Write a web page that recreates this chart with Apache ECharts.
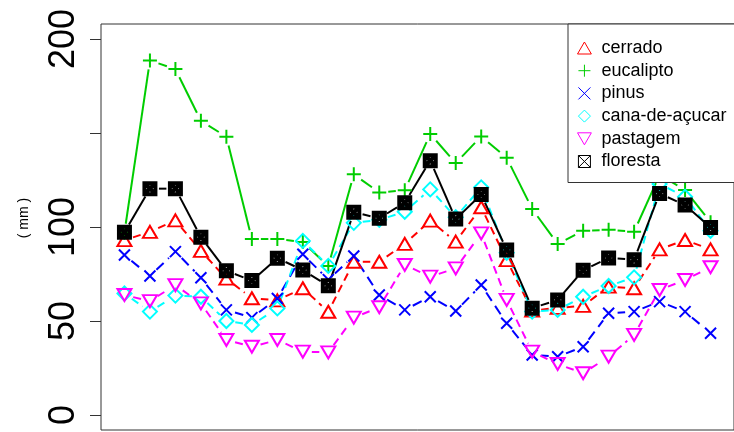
<!DOCTYPE html>
<html>
<head>
<meta charset="utf-8">
<script src="https://cdn.jsdelivr.net/npm/echarts@6/dist/echarts.min.js"></script>
<style>
  html, body { margin: 0; padding: 0; background: #fff; }
  #chart { width: 734px; height: 432px; }
</style>
</head>
<body>
<div id="chart"></div>
<script>
// Observation index (months) along the horizontal axis
const months = [1, 2, 3, 4, 5, 6, 7, 8, 9, 10, 11, 12, 13, 14, 15, 16, 17, 18, 19, 20, 21, 22, 23, 24];

// Values in mm for each land cover
const cerrado   = [93, 97.4, 103.5, 87.3, 72.5, 62.1, 61, 67.4, 54.9, 81.5, 81.5, 91, 103.4, 92.2, 110.5, 82.4, 55.5, 57, 58, 68.3, 67.4, 88.1, 93.1, 88.1];
const eucalipto = [97, 188.6, 184, 156.5, 148, 93.6, 93.6, 92, 79.2, 128, 118.4, 119.5, 149.5, 134, 148.2, 136.8, 109.6, 91, 98, 98.5, 97.5, 127.7, 119.7, 102.5];
const pinus     = [85.1, 73.9, 86.9, 73, 55.9, 51.8, 62, 85.5, 72, 84.6, 63.8, 55.9, 62.9, 55.3, 69.1, 48.8, 31.9, 31, 36.3, 54.1, 55, 60.3, 55, 43.5];
const cana      = [64.6, 55, 63.5, 62.9, 50, 47.9, 56.7, 92.6, 79.3, 102.2, 103.8, 108.1, 120, 105.2, 121.1, 86.3, 55, 55.9, 62.9, 68.6, 73.2, 122.9, 116.1, 98];
const pastagem  = [63.8, 60.6, 69.1, 59.4, 39.9, 36.3, 39.9, 33.7, 33.3, 51.8, 57.3, 79.8, 73.6, 78, 96.6, 61.2, 33.7, 27.1, 22.2, 31, 42.6, 66.5, 71.8, 78.6];
const floresta  = [97.2, 120.4, 120.4, 94.6, 76.7, 71.5, 83.4, 77.1, 68.7, 107.8, 104.7, 112.9, 135.3, 104.2, 117.3, 87.8, 56.8, 61.2, 77, 83.5, 82.6, 117.8, 111.7, 99.8];

// Y axis ticks, and the labels printed beside them (150 is left unlabelled)
const yTicks = [0, 50, 100, 150, 200];
const yLabels = [0, 50, 100, 200];

const SYM = {
  triUp:   'path://M5,0L10,8.66L0,8.66Z',
  plus:    'path://M5,0L5,10M0,5L10,5',
  cross:   'path://M0,0L10,10M10,0L0,10',
  diamond: 'path://M5,0L10,5L5,10L0,5Z',
  triDown: 'path://M0,0L10,0L5,8.66Z',
  boxX:    'path://M0,0L10,0L10,10L0,10ZM0,0L10,10M10,0L0,10'
};

const groups = [
  { name: 'cerrado',        values: cerrado,   color: '#FF0000', symbol: SYM.triUp,   size: [14, 12], dash: [8, 5] },
  { name: 'eucalipto',      values: eucalipto, color: '#00CD00', symbol: SYM.plus,    size: 14,       dash: null },
  { name: 'pinus',          values: pinus,     color: '#0000FF', symbol: SYM.cross,   size: 11,       dash: [10, 6] },
  { name: 'cana-de-açucar', values: cana,      color: '#00FFFF', symbol: SYM.diamond, size: 14,       dash: [8, 5] },
  { name: 'pastagem',       values: pastagem,  color: '#FF00FF', symbol: SYM.triDown, size: [14, 12], dash: [8, 5] },
  { name: 'floresta',       values: floresta,  color: '#000000', symbol: SYM.boxX,    size: 11,       dash: null, boxWidth: 4 }
];

// Gap (px) left around each point, as in a "both" points-and-lines plot
const GAP = 9;

function segmentSeries(g) {
  const segs = [];
  for (let i = 0; i < months.length - 1; i++) {
    segs.push([months[i], g.values[i], months[i + 1], g.values[i + 1]]);
  }
  return {
    type: 'custom',
    name: g.name + '_line',
    coordinateSystem: 'cartesian2d',
    silent: true,
    encode: { x: [0, 2], y: [1, 3] },
    data: segs,
    renderItem: function (params, api) {
      const p1 = api.coord([api.value(0), api.value(1)]);
      const p2 = api.coord([api.value(2), api.value(3)]);
      const dx = p2[0] - p1[0], dy = p2[1] - p1[1];
      const len = Math.sqrt(dx * dx + dy * dy);
      if (len <= 2 * GAP + 1) return null;
      const ux = dx / len, uy = dy / len;
      return {
        type: 'line',
        shape: {
          x1: p1[0] + ux * GAP, y1: p1[1] + uy * GAP,
          x2: p2[0] - ux * GAP, y2: p2[1] - uy * GAP
        },
        style: {
          stroke: g.color,
          lineWidth: 2,
          lineDash: g.dash || null,
          fill: null
        }
      };
    }
  };
}

function pointSeries(g) {
  return {
    type: 'scatter',
    name: g.name,
    symbol: g.symbol,
    symbolSize: g.size,
    silent: true,
    data: months.map((m, i) => [m, g.values[i]]),
    itemStyle: {
      color: 'rgba(0,0,0,0)',
      borderColor: g.color,
      borderWidth: g.boxWidth || 2,
      opacity: 1
    }
  };
}

const series = [];
groups.forEach(g => {
  series.push(segmentSeries(g));
  series.push(pointSeries(g));
});

const chart = echarts.init(document.getElementById('chart'), null, { renderer: 'canvas' });

chart.setOption({
  animation: false,
  backgroundColor: '#ffffff',
  textStyle: { fontFamily: 'Liberation Sans, Arial, sans-serif' },
  grid: {
    left: 101, top: 24, width: 639, height: 406,
    show: true, borderColor: '#333', borderWidth: 1, backgroundColor: 'transparent'
  },
  xAxis: {
    type: 'value', min: 0.08, max: 24.92,
    axisLine: { show: false }, axisTick: { show: false },
    axisLabel: { show: false }, splitLine: { show: false }
  },
  yAxis: {
    type: 'value', min: -8, max: 208,
    axisLine: { show: false },
    splitLine: { show: false },
    axisTick: {
      show: true, length: 11, customValues: yTicks,
      lineStyle: { color: '#333', width: 1 }
    },
    axisLabel: {
      show: true, customValues: yLabels, rotate: 90, margin: 19,
      fontSize: 36, color: '#000', fontFamily: 'Liberation Sans, Arial, sans-serif'
    }
  },
  legend: {
    orient: 'vertical',
    left: 568, top: 24,
    padding: [15, 24, 12, 9],
    itemWidth: 24, itemHeight: 12, itemGap: 4.7,
    backgroundColor: '#ffffff',
    borderColor: '#333', borderWidth: 1, borderRadius: 0,
    selectedMode: false,
    data: groups.map(g => g.name),
    itemStyle: { borderWidth: 1 },
    textStyle: { fontSize: 18, color: '#000', fontFamily: 'Liberation Sans, Arial, sans-serif' }
  },
  graphic: [{
    type: 'text',
    x: 24, y: 218, rotation: Math.PI / 2,
    style: {
      text: '( mm )', fontSize: 14, fill: '#000',
      fontFamily: 'Liberation Sans, Arial, sans-serif',
      align: 'center', verticalAlign: 'middle'
    }
  }],
  series: series
});
</script>
</body>
</html>
